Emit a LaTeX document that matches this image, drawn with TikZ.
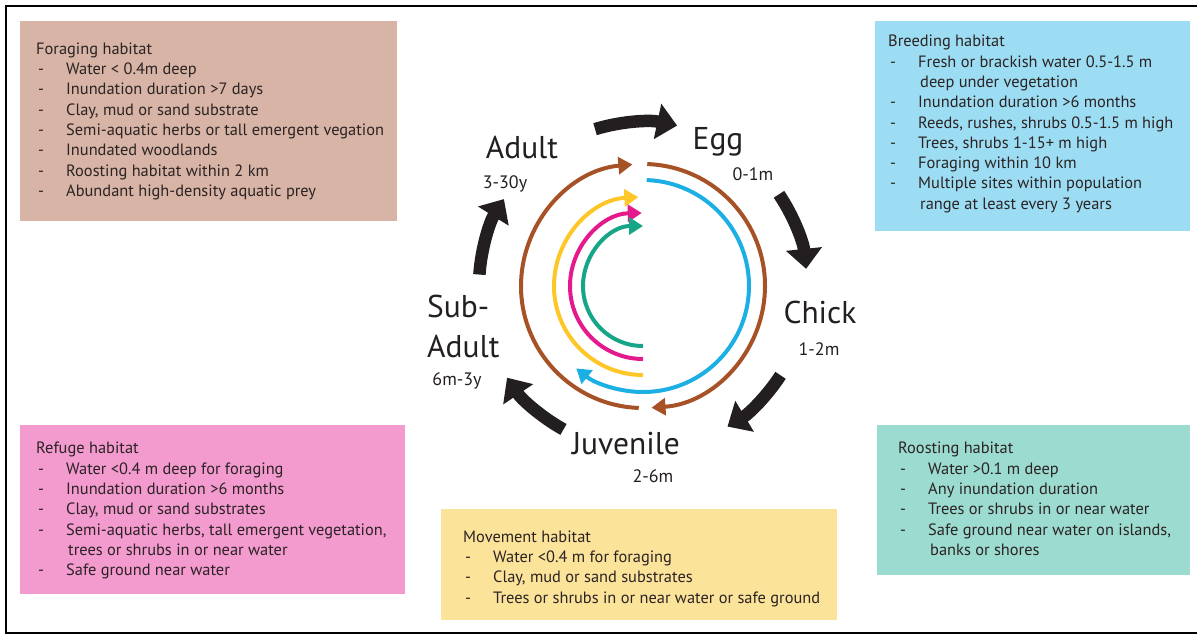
\documentclass[tikz,border=0pt]{standalone}
\usepackage{fontspec}
\setmainfont{PT Sans}
\usetikzlibrary{arrows.meta}
\definecolor{forage}{HTML}{D7B4A5}
\definecolor{breed}{HTML}{9DDDF3}
\definecolor{refuge}{HTML}{F39ACF}
\definecolor{roost}{HTML}{9CDBCF}
\definecolor{move}{HTML}{FCE39A}
\definecolor{boxtext}{HTML}{2B2324}
\definecolor{cbrown}{RGB}{166,82,38}
\definecolor{cblue}{RGB}{28,175,228}
\definecolor{cyellow}{RGB}{255,198,39}
\definecolor{cmag}{RGB}{228,25,140}
\definecolor{cgreen}{RGB}{22,166,135}
\definecolor{cblack}{HTML}{231F20}
\newcommand{\itm}[1]{\makebox[30pt][l]{\hspace{2pt}-}#1\\}
\newcommand{\cnt}[1]{\hspace{32pt}#1\\}
\tikzset{
  habtext/.style={anchor=north west, inner sep=0pt, align=left, text=boxtext,
    font=\fontsize{16.4}{20.3}\selectfont},
  stage/.style={font=\fontsize{31.5}{33}\selectfont, text=cblack, inner sep=0pt},
  age/.style={font=\fontsize{18}{20}\selectfont, text=cblack, inner sep=0pt},
  cyc/.style={line width=12.5pt, cblack, -{Triangle[length=20pt,width=35pt]}},
  ring/.style={line width=4pt, -{Triangle[length=14pt,width=17pt]}},
}
\begin{document}
\begin{tikzpicture}[x=1pt,y=1pt]
\useasboundingbox (0,0) rectangle (1197,-635);
% outer frame
\draw[line width=2pt,black] (1197,-6) -- (6,-6) -- (6,-633) -- (1197,-633);

% boxes
\fill[forage] (20,-21) rectangle (397,-221);
\fill[breed] (875,-21) rectangle (1190,-231);
\fill[refuge] (20,-425) rectangle (405,-594);
\fill[roost] (877,-425) rectangle (1190,-575);
\fill[move] (441,-509) rectangle (837,-620);

\node[habtext] (tforage) at (36,-42.5) {Foraging habitat\\
\itm{Water < 0.4m deep}
\itm{Inundation duration >7 days}
\itm{Clay, mud or sand substrate}
\itm{Semi-aquatic herbs or tall emergent vegation}
\itm{Inundated woodlands}
\itm{Roosting habitat within 2 km}
\itm{Abundant high-density aquatic prey}};

\node[habtext] (tbreed) at (888,-35) {Breeding habitat\\
\itm{Fresh or brackish water 0.5-1.5 m}
\cnt{deep under vegetation}
\itm{Inundation duration >6 months}
\itm{Reeds, rushes, shrubs 0.5-1.5 m high}
\itm{Trees, shrubs 1-15+ m high}
\itm{Foraging within 10 km}
\itm{Multiple sites within population}
\cnt{range at least every 3 years}};

\node[habtext] (trefuge) at (36,-442) {Refuge habitat\\
\itm{Water <0.4 m deep for foraging}
\itm{Inundation duration >6 months}
\itm{Clay, mud or sand substrates}
\itm{Semi-aquatic herbs, tall emergent vegetation,}
\cnt{trees or shrubs in or near water}
\itm{Safe ground near water}};

\node[habtext] (troost) at (898,-442) {Roosting habitat\\
\itm{Water >0.1 m deep}
\itm{Any inundation duration}
\itm{Trees or shrubs in or near water}
\itm{Safe ground near water on islands,}
\cnt{banks or shores}};

\node[habtext] (tmove) at (463,-530.5) {Movement habitat\\
\itm{Water <0.4 m for foraging}
\itm{Clay, mud or sand substrates}
\itm{Trees or shrubs in or near water or safe ground}};

% stage labels
\node[stage] (adult) at (522,-147) {Adult};
\node[age] (adultage) at (505,-184) {3-30y};
\node[stage] (egg) at (718,-142) {Egg};
\node[age] (eggage) at (753,-174) {0-1m};
\node[stage] (chick) at (820,-312) {Chick};
\node[age] (chickage) at (819,-349) {1-2m};
\node[stage, anchor=west] (sub1) at (427,-306) {Sub-};
\node[stage, anchor=west] (sub2) at (427,-346) {Adult};
\node[age] (subage) at (457,-381) {6m-3y};
\node[stage] (juv) at (626,-444) {Juvenile};
\node[age] (juvage) at (653,-476) {2-6m};

% centre of the cycle
\coordinate (c) at (643,-286);

% outer black cycle arrows
\draw[cyc] (c) ++(107:164) arc[start angle=107, end angle=78, radius=164];
\draw[cyc] (c) ++(34:164) arc[start angle=34, end angle=6, radius=164];
\draw[cyc] (c) ++(-33:164) arc[start angle=-33, end angle=-59, radius=164];
\draw[cyc] (c) ++(241:164) arc[start angle=241, end angle=214, radius=164];
\draw[cyc] (c) ++(176:164) arc[start angle=176, end angle=148, radius=164];

% inner habitat rings
\draw[ring, cbrown] (c) ++(88:122) arc[start angle=88, end angle=-86, radius=122];
\draw[ring, cbrown] (c) ++(268:122) arc[start angle=268, end angle=95, radius=122];
\draw[ring, cblue] (c) ++(88:106) arc[start angle=88, end angle=-129, radius=106];
\draw[ring, cyellow] (c) ++(270:89) arc[start angle=270, end angle=93, radius=89];
\draw[ring, cmag] (c) ++(270:73) arc[start angle=270, end angle=91, radius=73];
\draw[ring, cgreen] (c) ++(270:60) arc[start angle=270, end angle=90, radius=60];
\end{tikzpicture}
\end{document}
